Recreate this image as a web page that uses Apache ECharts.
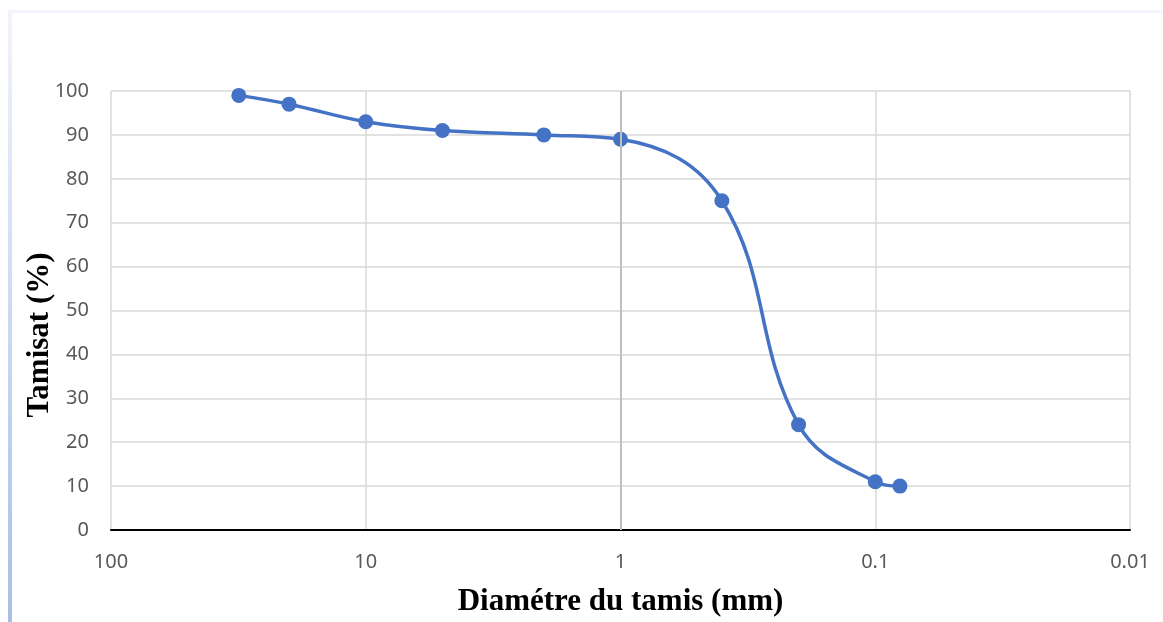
<!DOCTYPE html>
<html>
<head>
<meta charset="utf-8">
<script src="https://cdn.jsdelivr.net/npm/echarts@6/dist/echarts.min.js"></script>
<style>
  html, body { margin: 0; padding: 0; background: #fff; }
  #chart { width: 1163px; height: 622px; }
</style>
</head>
<body>
<div id="chart"></div>
<script>
// diamètre du tamis (mm) et tamisat (%)
var diametres = [31.5, 20, 10, 5, 2, 1, 0.4, 0.2, 0.1, 0.08];
var tamisat = [99, 97, 93, 91, 90, 89, 75, 24, 11, 10];
var xTicks = [100, 10, 1, 0.1, 0.01];

var points = [];
for (var i = 0; i < diametres.length; i++) {
    points.push([diametres[i], tamisat[i]]);
}

var myChart = echarts.init(document.getElementById('chart'));
myChart.setOption({
    backgroundColor: '#fff',
    animation: false,
    graphic: [
        { type: 'rect', shape: { x: 8, y: 10, width: 1155, height: 3 }, style: { fill: '#f3f5fb' } },
        {
            type: 'rect', shape: { x: 8, y: 10, width: 4, height: 612 },
            style: {
                fill: new echarts.graphic.LinearGradient(0, 0, 0, 1, [
                    { offset: 0, color: '#f1f4fb' },
                    { offset: 1, color: '#a7bfe8' }
                ])
            }
        },
        {
            // titre de l'axe vertical
            type: 'text',
            x: 40,
            y: 335,
            rotation: Math.PI / 2,
            style: {
                text: 'Tamisat (%)',
                font: 'bold 31px "Liberation Serif"',
                fill: '#000',
                align: 'center',
                verticalAlign: 'middle'
            }
        }
    ],
    grid: { left: 111, right: 33, top: 91, bottom: 90, containLabel: false },
    xAxis: {
        type: 'log',
        logBase: 10,
        min: 0.01,
        max: 100,
        inverse: true,
        name: 'Diamétre du tamis (mm)',
        nameLocation: 'middle',
        nameGap: 56,
        nameTextStyle: { fontFamily: 'Liberation Serif', fontWeight: 'bold', fontSize: 31, color: '#000' },
        axisLine: { lineStyle: { color: '#000', width: 2 } },
        axisTick: { show: false },
        axisLabel: {
            margin: 22,
            fontFamily: 'Noto Sans',
            fontSize: 20,
            color: '#595959',
            formatter: function (v) {
                for (var k = 0; k < xTicks.length; k++) {
                    if (Math.abs(v - xTicks[k]) < xTicks[k] * 1e-6) return String(xTicks[k]);
                }
                return String(v);
            }
        },
        splitLine: { show: true, lineStyle: { color: '#d9d9d9', width: 1.5 } }
    },
    yAxis: {
        type: 'value',
        min: 0,
        max: 100,
        interval: 10,
        axisLine: { show: false },
        axisTick: { show: false },
        axisLabel: { margin: 22, fontFamily: 'Noto Sans', fontSize: 20, color: '#595959' },
        splitLine: { show: true, lineStyle: { color: '#d9d9d9', width: 1.5 } }
    },
    series: [{
        type: 'line',
        data: points,
        smooth: 0.4,
        symbol: 'circle',
        symbolSize: 15,
        itemStyle: { color: '#4472c4' },
        lineStyle: { color: '#4472c4', width: 3.5 },
        markLine: {
            silent: true,
            symbol: 'none',
            label: { show: false },
            lineStyle: { color: '#bfbfbf', width: 2, type: 'solid' },
            data: [{ xAxis: 1 }]
        },
        z: 3
    }]
});
</script>
</body>
</html>
